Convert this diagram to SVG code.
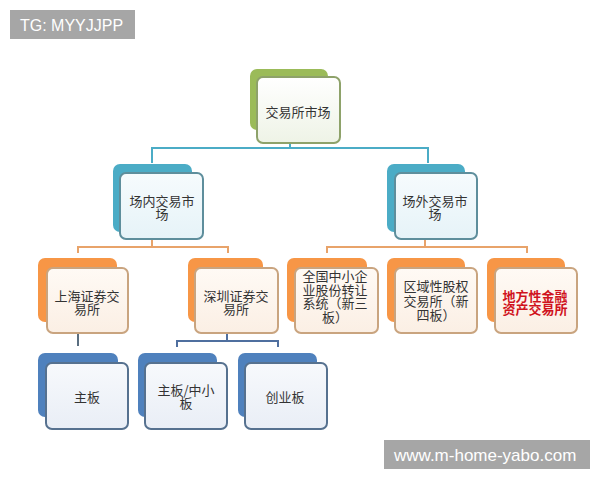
<svg xmlns="http://www.w3.org/2000/svg" width="600" height="480" viewBox="0 0 600 480">
<defs>
<linearGradient id="gG" x1="0" y1="0" x2="0" y2="1"><stop offset="0" stop-color="#ffffff"/><stop offset="1" stop-color="#eef3e6"/></linearGradient>
<linearGradient id="gT" x1="0" y1="0" x2="0" y2="1"><stop offset="0" stop-color="#f6fbfd"/><stop offset="1" stop-color="#e6f3f8"/></linearGradient>
<linearGradient id="gO" x1="0" y1="0" x2="0" y2="1"><stop offset="0" stop-color="#fffaf5"/><stop offset="1" stop-color="#fbefe4"/></linearGradient>
<linearGradient id="gB" x1="0" y1="0" x2="0" y2="1"><stop offset="0" stop-color="#f7f9fc"/><stop offset="1" stop-color="#e9eef6"/></linearGradient>
</defs>
<style>
text{font-family:"Noto Sans CJK SC","Noto Sans",sans-serif;font-size:13px;fill:#333;text-anchor:middle}
.wm{font-family:"Liberation Sans",Arial,sans-serif;fill:#fff;text-anchor:start}
.wm1{font-size:16px}
.wm2{font-size:17px}
.bk{stroke:none}
.fr{stroke-width:2}
.green .bk{fill:#9bbb59}.green .fr{fill:url(#gG);stroke:#8ea26a}
.teal .bk{fill:#4bacc6}.teal .fr{fill:url(#gT);stroke:#5e8e9c}
.orange .bk{fill:#f79646}.orange .fr{fill:url(#gO);stroke:#c9a47f}
.blue .bk{fill:#4f81bd}.blue .fr{fill:url(#gB);stroke:#56718f}
.red{fill:#d0131d;font-weight:bold}
line,polyline{fill:none;stroke-width:2}
</style>
<rect width="600" height="480" fill="#ffffff"/>

<g id="connectors">
<line x1="290" y1="143" x2="290" y2="148" stroke="#4bacc6"/>
<polyline points="152,163 152,148 428,148 428,163" stroke="#4bacc6"/>
<line x1="152" y1="239" x2="152" y2="247" stroke="#e8a36a"/>
<polyline points="78,253 78,247 228,247 228,253" stroke="#e8a36a"/>
<line x1="425" y1="239" x2="425" y2="247" stroke="#e8a36a"/>
<polyline points="327,253 327,247 527,247 527,253" stroke="#e8a36a"/>
<line x1="78" y1="333" x2="78" y2="346" stroke="#5a6e80"/>
<line x1="227" y1="333" x2="227" y2="341" stroke="#4f6f9f"/>
<polyline points="177,347 177,341 278,341 278,347" stroke="#4f6f9f"/>
</g>

<g id="root" class="green">
<rect class="bk" x="250" y="69" width="78" height="61" rx="7"/>
<rect class="fr" x="257" y="77" width="83" height="66" rx="6"/>
<text x="298" y="117">交易所市场</text>
</g>

<g id="inside" class="teal">
<rect class="bk" x="113" y="164" width="79" height="68" rx="7"/>
<rect class="fr" x="120" y="173" width="83" height="66" rx="6"/>
<text x="162" y="206">场内交易市<tspan x="162" dy="13">场</tspan></text>
</g>

<g id="outside" class="teal">
<rect class="bk" x="387" y="164" width="78" height="68" rx="7"/>
<rect class="fr" x="395" y="173" width="82" height="66" rx="6"/>
<text x="435" y="206">场外交易市<tspan x="435" dy="13">场</tspan></text>
</g>

<g id="shanghai" class="orange">
<rect class="bk" x="38" y="258" width="79" height="64" rx="7"/>
<rect class="fr" x="47" y="268" width="81" height="65" rx="6"/>
<text x="87" y="301">上海证券交<tspan x="87" dy="13">易所</tspan></text>
</g>

<g id="shenzhen" class="orange">
<rect class="bk" x="188" y="258" width="75" height="64" rx="7"/>
<rect class="fr" x="195" y="268" width="83" height="65" rx="6"/>
<text x="236" y="301">深圳证券交<tspan x="236" dy="13">易所</tspan></text>
</g>

<g id="neeq" class="orange">
<rect class="bk" x="287" y="258" width="80" height="64" rx="7"/>
<rect class="fr" x="295" y="268" width="83" height="65" rx="6"/>
<text x="335" y="281">全国中小企<tspan x="335" dy="13.5">业股份转让</tspan><tspan x="335" dy="13.5">系统（新三</tspan><tspan x="335" dy="13.5">板）</tspan></text>
</g>

<g id="regional" class="orange">
<rect class="bk" x="387" y="258" width="78" height="64" rx="7"/>
<rect class="fr" x="395" y="268" width="82" height="65" rx="6"/>
<text x="436" y="291">区域性股权<tspan x="436" dy="14.5">交易所（新</tspan><tspan x="436" dy="14">四板）</tspan></text>
</g>

<g id="local" class="orange">
<rect class="bk" x="487" y="258" width="78" height="64" rx="7"/>
<rect class="fr" x="495" y="268" width="82" height="65" rx="6"/>
<text class="red" x="535" y="300.5">地方性金融<tspan x="535" dy="13">资产交易所</tspan></text>
</g>

<g id="mainboard" class="blue">
<rect class="bk" x="38" y="353" width="80" height="64" rx="7"/>
<rect class="fr" x="46" y="363" width="82" height="66" rx="6"/>
<text x="87" y="401.5">主板</text>
</g>

<g id="sme" class="blue">
<rect class="bk" x="138" y="353" width="79" height="64" rx="7"/>
<rect class="fr" x="145" y="363" width="82" height="66" rx="6"/>
<text x="186" y="394.5">主板/中小<tspan x="186" dy="13">板</tspan></text>
</g>

<g id="chinext" class="blue">
<rect class="bk" x="238" y="353" width="79" height="64" rx="7"/>
<rect class="fr" x="245" y="363" width="82" height="66" rx="6"/>
<text x="285" y="401.5">创业板</text>
</g>

<g id="watermarks">
<rect x="10" y="10" width="125" height="29" fill="#a6a6a6"/>
<text class="wm wm1" x="20" y="31">TG: MYYJJPP</text>
<rect x="384" y="440" width="206" height="29" fill="#a6a6a6"/>
<text class="wm wm2" x="394" y="461">www.m-home-yabo.com</text>
</g>
</svg>
